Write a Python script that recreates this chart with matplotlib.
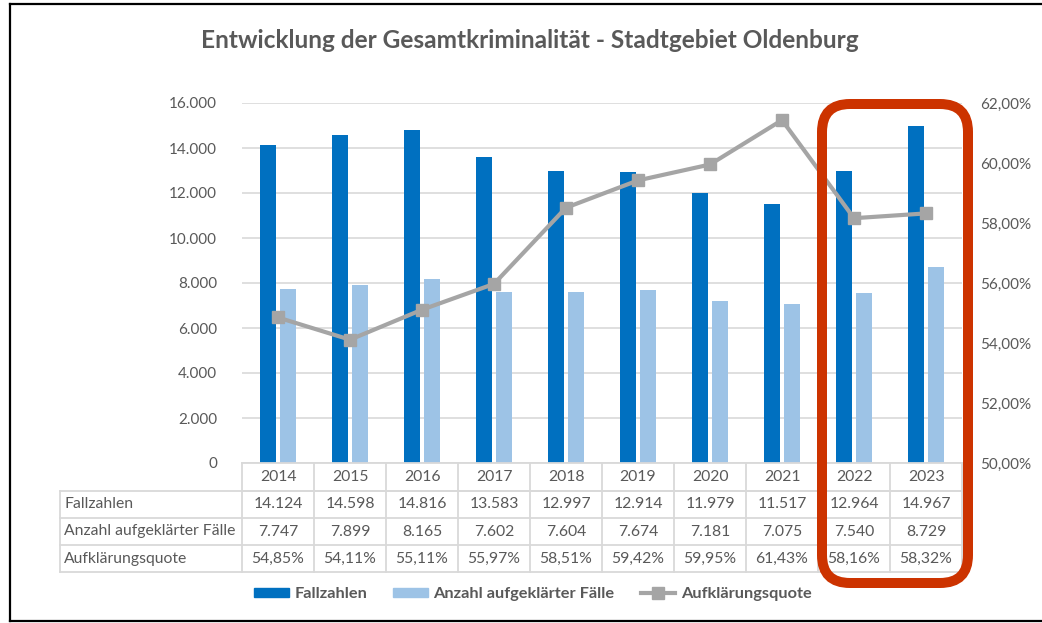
import numpy as np
import matplotlib.pyplot as plt
from matplotlib.patches import FancyBboxPatch
from matplotlib.lines import Line2D

plt.rcParams['font.family'] = ['Lato', 'DejaVu Sans']

years = ['2014', '2015', '2016', '2017', '2018', '2019', '2020', '2021', '2022', '2023']
fallzahlen = [14124, 14598, 14816, 13583, 12997, 12914, 11979, 11517, 12964, 14967]
aufgeklaert = [7747, 7899, 8165, 7602, 7604, 7674, 7181, 7075, 7540, 8729]
quote = [54.85, 54.11, 55.11, 55.97, 58.51, 59.42, 59.95, 61.43, 58.16, 58.32]

row_labels = ['Fallzahlen', 'Anzahl aufgeklärter Fälle', 'Aufklärungsquote']

TXT = '#595959'
GRID = '#D9D9D9'
DARK = '#0070C0'
LIGHT = '#9DC3E6'
LINE = '#A5A5A5'


def de_int(v):
    return f"{v:,}".replace(',', '.')


def de_pct(v):
    return f"{v:.2f}%".replace('.', ',')


W, H = 1042, 623
fig = plt.figure(figsize=(W / 100, H / 100), dpi=100)

# plot area in pixels
x0, x1, ytop, ybot = 242, 962, 103, 463
ax = fig.add_axes([x0 / W, 1 - ybot / H, (x1 - x0) / W, (ybot - ytop) / H])
ax2 = ax.twinx()

x = np.arange(len(years))
bw = 0.22
ax.bar(x - 0.143, fallzahlen, bw, color=DARK, zorder=3)
ax.bar(x + 0.143, aufgeklaert, bw, color=LIGHT, zorder=3)
ax.set_xlim(-0.5, len(years) - 0.5)
ax.set_ylim(0, 16000)
ax.set_yticks(np.arange(0, 16001, 2000))
ax.set_yticklabels([de_int(v) for v in range(0, 16001, 2000)])
ax.yaxis.grid(True, color=GRID, linewidth=1.2, zorder=0)
ax.set_axisbelow(True)
ax.set_xticks([])

ax2.plot(x, quote, color=LINE, linewidth=3, marker='s', markersize=9, zorder=5)
ax2.set_ylim(50, 62)
ax2.set_yticks(np.arange(50, 62.1, 2))
ax2.set_yticklabels([de_pct(v) for v in np.arange(50, 62.1, 2)])

for a in (ax, ax2):
    for s in a.spines.values():
        s.set_visible(False)
    a.tick_params(length=0, labelsize=11, labelcolor=TXT)
ax.tick_params(axis='y', pad=18)
ax2.tick_params(axis='y', pad=13)

# data table below the plot
rows = [fallzahlen, aufgeklaert, quote]
fmt = [de_int, de_int, de_pct]
row_h = 27
col_w = (x1 - x0) / len(years)
tleft = 60
fs_tab = 11.3
lines_kw = dict(color=GRID, linewidth=1.3, transform=None, zorder=1)

# year row
for yp in (ybot, ybot + 28):
    fig.add_artist(Line2D([x0, x1], [H - yp, H - yp], **lines_kw))
for i in range(len(years) + 1):
    xp = x0 + i * col_w
    fig.add_artist(Line2D([xp, xp], [H - ybot, H - (ybot + 28 + 3 * row_h)], **lines_kw))
for i, yr in enumerate(years):
    fig.text((x0 + (i + 0.5) * col_w) / W, 1 - (ybot + 14) / H, yr,
             ha='center', va='center', fontsize=fs_tab, color=TXT)

tstart = ybot + 28
for r in range(4):
    yp = tstart + r * row_h
    fig.add_artist(Line2D([tleft, x1], [H - yp, H - yp], **lines_kw))
fig.add_artist(Line2D([tleft, tleft], [H - tstart, H - (tstart + 3 * row_h)], **lines_kw))
for r, (lab, vals, f) in enumerate(zip(row_labels, rows, fmt)):
    yc = tstart + (r + 0.5) * row_h
    fig.text((tleft + 4) / W, 1 - yc / H, lab, ha='left', va='center',
             fontsize=fs_tab, color=TXT)
    for i, v in enumerate(vals):
        fig.text((x0 + (i + 0.5) * col_w) / W, 1 - yc / H, f(v),
                 ha='center', va='center', fontsize=fs_tab, color=TXT)

fig.suptitle('Entwicklung der Gesamtkriminalität - Stadtgebiet Oldenburg',
             x=530 / W, y=1 - 40 / H, va='center', fontsize=17.6,
             fontweight='bold', color=TXT)

handles = [
    plt.Rectangle((0, 0), 1, 1, color=DARK),
    plt.Rectangle((0, 0), 1, 1, color=LIGHT),
    Line2D([], [], color=LINE, linewidth=3, marker='s', markersize=9),
]
fig.legend(handles, ['Fallzahlen', 'Anzahl aufgeklärter Fälle', 'Aufklärungsquote'],
           loc='center', bbox_to_anchor=(533 / W, 1 - 594 / H), ncol=3,
           frameon=False, prop={'weight': 'bold', 'size': 11.8},
           labelcolor=TXT, handlelength=2.1, handleheight=0.5, columnspacing=1.6,
           handletextpad=0.35)

# red highlight box around 2022/2023
box = FancyBboxPatch((822, H - 583), 968 - 822, 583 - 104,
                     boxstyle='round,pad=0,rounding_size=28',
                     facecolor='none', edgecolor='#CC3300', linewidth=7.2,
                     transform=None, zorder=10)
fig.add_artist(box)

# outer frame (left, top, bottom)
fk = dict(color='black', linewidth=1.6, transform=None)
fig.add_artist(Line2D([10, 10], [H - 4, H - 621], **fk))
fig.add_artist(Line2D([10, W], [H - 4, H - 4], **fk))
fig.add_artist(Line2D([10, W], [H - 621, H - 621], **fk))

fig.savefig('out.png', dpi=100)
